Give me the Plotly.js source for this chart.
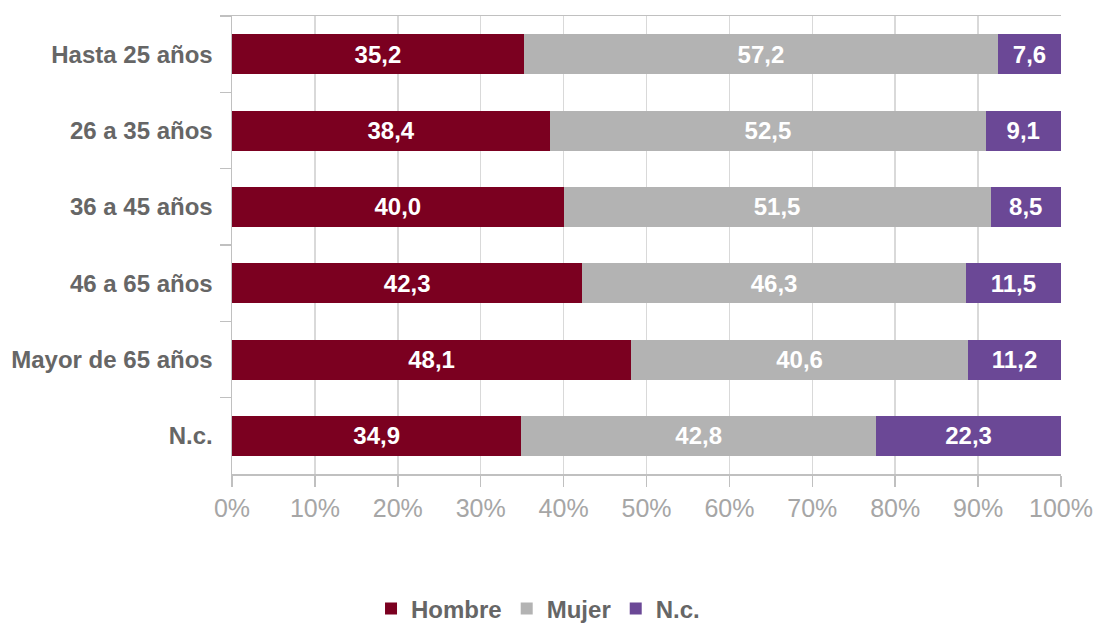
<!DOCTYPE html>
<html>
<head>
<meta charset="utf-8">
<script src="https://cdn.plot.ly/plotly-3.0.1.min.js"></script>
<style>html,body{margin:0;padding:0;background:#fff;}#chart{width:1098px;height:624px;}</style>
</head>
<body>
<div id="chart"></div>
<script>
const categories = ["Hasta 25 años", "26 a 35 años", "36 a 45 años", "46 a 65 años", "Mayor de 65 años", "N.c."];
const hombre = [35.2, 38.4, 40.0, 42.3, 48.1, 34.9];
const mujer = [57.2, 52.5, 51.5, 46.3, 40.6, 42.8];
const nc = [7.6, 9.1, 8.5, 11.5, 11.2, 22.3];
const xTicks = [0, 10, 20, 30, 40, 50, 60, 70, 80, 90, 100];

const fmt = v => v.toFixed(1).replace('.', ',');
const FONT = "Liberation Sans, Arial, sans-serif";

function series(name, vals, color) {
  return {
    type: 'bar', orientation: 'h', name: name,
    y: categories, x: vals,
    text: vals.map(fmt), texttemplate: '%{text}',
    textposition: 'inside', insidetextanchor: 'middle',
    textangle: 0, constraintext: 'none',
    textfont: {family: FONT, size: 24, color: '#ffffff', weight: 'bold'},
    marker: {color: color, line: {width: 0}},
    hoverinfo: 'skip'
  };
}

const data = [
  series('Hombre', hombre, '#7b0020'),
  series('Mujer', mujer, '#b3b3b3'),
  series('N.c.', nc, '#6b4896')
];

const layout = {
  width: 1098, height: 624,
  margin: {l: 232, r: 37, t: 16, b: 150},
  paper_bgcolor: '#ffffff', plot_bgcolor: '#ffffff',
  barmode: 'stack', barnorm: 'percent', bargap: 0.476,
  separators: ',.',
  font: {family: FONT},
  showlegend: true,
  legend: {
    orientation: 'h', xref: 'container', yref: 'container',
    x: 0.49, xanchor: 'center', y: 0.024, yanchor: 'middle',
    font: {family: FONT, size: 24, color: '#666666', weight: 'bold'},
    traceorder: 'normal', itemwidth: 30
  },
  xaxis: {
    range: [0, 100], tickvals: xTicks, ticktext: xTicks.map(v => v + '%'),
    showgrid: true, gridcolor: '#d9d9d9', gridwidth: 1.5,
    showline: true, linecolor: '#c0c0c0', linewidth: 1.5, mirror: true,
    ticks: 'outside', ticklen: 11, tickcolor: '#c0c0c0', tickwidth: 1.5,
    tickfont: {family: FONT, size: 25, color: '#a6a6a6'},
    zeroline: false, fixedrange: true
  },
  yaxis: {
    type: 'category', categoryorder: 'array', categoryarray: categories,
    autorange: 'reversed', tickson: 'boundaries',
    showgrid: false, showline: true, linecolor: '#c0c0c0', linewidth: 1.5,
    ticks: 'outside', ticklen: 11, tickcolor: '#c0c0c0', tickwidth: 1.5,
    tickfont: {family: FONT, size: 24, color: '#666666', weight: 'bold'},
    ticklabelstandoff: 13, zeroline: false, fixedrange: true
  }
};

Plotly.newPlot('chart', data, layout, {displayModeBar: false, staticPlot: true});
</script>
</body>
</html>
